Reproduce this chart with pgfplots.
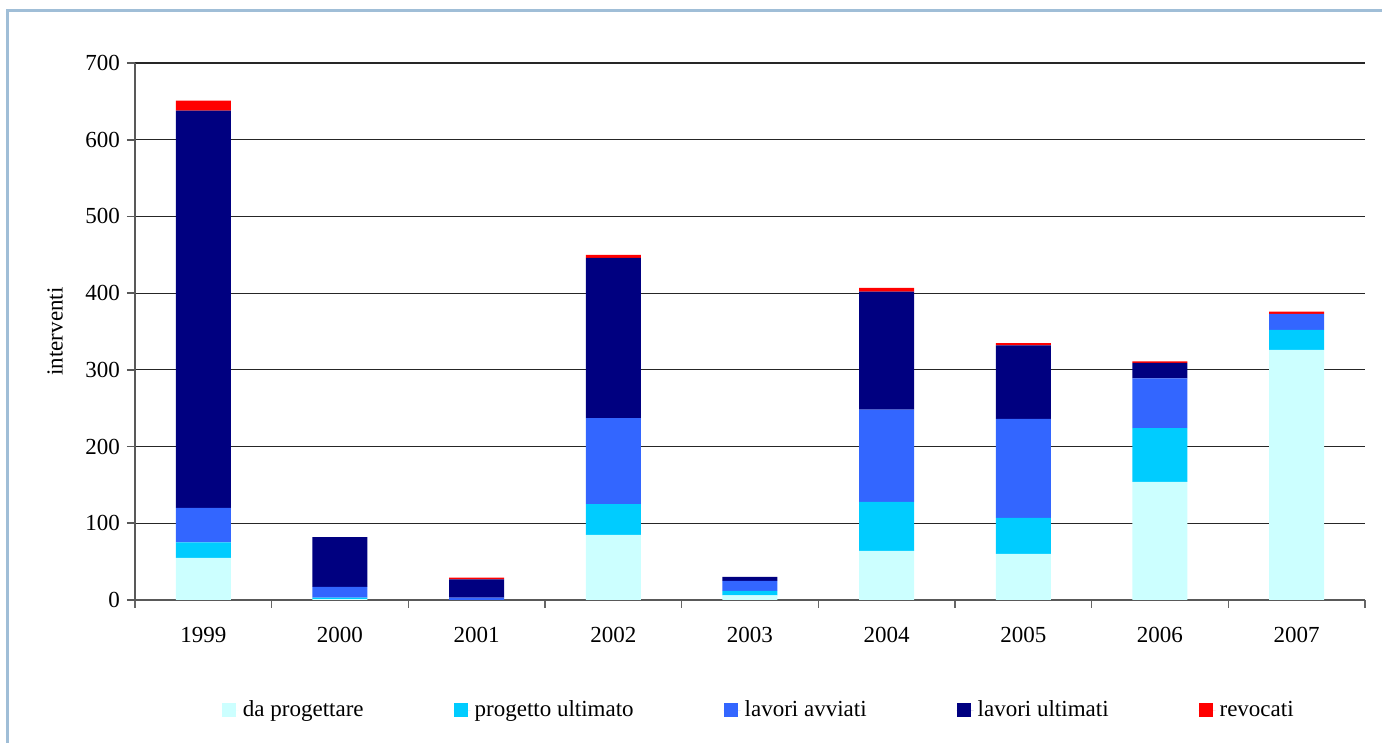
\documentclass[border=0pt]{standalone}
\usepackage{fontspec}
\setmainfont{Liberation Serif}
\usepackage{pgfplots}
\usepackage{pgfplotstable}
\pgfplotsset{compat=1.18}
\definecolor{cda}{RGB}{204,255,255}
\definecolor{cpu}{RGB}{0,204,255}
\definecolor{cla}{RGB}{51,102,255}
\definecolor{clu}{RGB}{0,0,128}
\definecolor{crev}{RGB}{255,0,0}
\definecolor{frame}{RGB}{160,190,215}
\pgfplotstableread{
x da pu la lu rev
0 55 20 45 518 13
1 1 2 14 65 0
2 0 0 3 24 2
3 85 40 112 209 4
4 6 6 13 5 0
5 64 64 120 154 5
6 60 47 129 96 3
7 154 70 65 20 2
8 326 26 21 0 3
}\datatable
\begin{document}
\begin{tikzpicture}
\useasboundingbox (0,0) rectangle (691pt,371.5pt);
\draw[frame, line width=1.5pt] (3.5pt,-5pt) rectangle (700pt,366pt);
\begin{axis}[
  at={(67.5pt,71.5pt)}, anchor=south west,
  scale only axis, width=615pt, height=268.5pt,
  ybar stacked, bar width=27.5pt,
  xmin=-0.5, xmax=8.5, ymin=0, ymax=700,
  xtick={0,...,8},
  xticklabels={1999,2000,2001,2002,2003,2004,2005,2006,2007},
  minor xtick={-0.5,0.5,...,8.5},
  ytick={0,100,...,700},
  axis x line*=bottom, axis y line*=left,
  axis line style={-, black!65, line width=0.8pt},
  tick align=outside,
  major tick length=4pt, minor tick length=4pt,
  major x tick style={draw=none},
  minor x tick style={black!60, line width=0.8pt},
  major y tick style={black!65, line width=0.8pt},
  ymajorgrids, grid style={black!85, line width=0.6pt},
  /pgf/number format/assume math mode=true,
  tick label style={font=\fontsize{11.5}{13}\selectfont},
  xticklabel style={yshift=-6pt},
  ylabel={interventi},
  ylabel style={font=\fontsize{11.5}{13}\selectfont, at={(axis description cs:-0.065,0.5)}, anchor=center},
  legend columns=5,
  legend style={at={(0.508,-0.205)}, anchor=center, draw=none, fill=none,
    font=\fontsize{11.5}{13}\selectfont, /tikz/every even column/.append style={column sep=43pt}},
  legend image code/.code={\fill[#1] (0pt,-3.5pt) rectangle (7pt,3.5pt); \path (0pt,0pt) -- (8.5pt,0pt);},
]
\addplot[fill=cda, draw=none] table[x=x,y=da] {\datatable};
\addplot[fill=cpu, draw=none] table[x=x,y=pu] {\datatable};
\addplot[fill=cla, draw=none] table[x=x,y=la] {\datatable};
\addplot[fill=clu, draw=none] table[x=x,y=lu] {\datatable};
\addplot[fill=crev, draw=none] table[x=x,y=rev] {\datatable};
\legend{da progettare, progetto ultimato, lavori avviati, lavori ultimati, revocati}
\end{axis}
\end{tikzpicture}
\end{document}
